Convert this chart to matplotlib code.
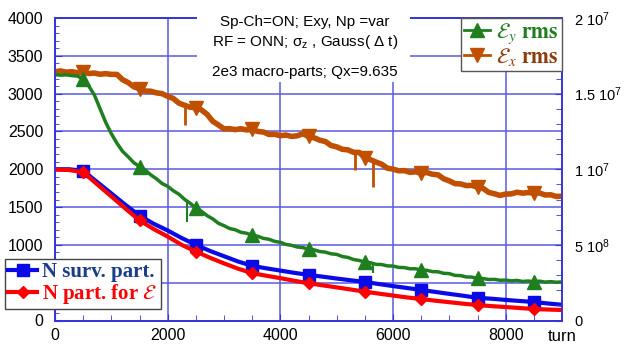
import numpy as np
import matplotlib
matplotlib.use("Agg")
import matplotlib.pyplot as plt
from matplotlib.lines import Line2D
from matplotlib.patches import Rectangle
from matplotlib.ticker import MultipleLocator
from matplotlib.font_manager import FontProperties

plt.rcParams['font.family'] = ['Liberation Sans', 'DejaVu Sans']
plt.rcParams['mathtext.fontset'] = 'stix'

# ---------------- data ----------------
# noisy emittance curves, sampled every 100 turns (units: 1e6, right axis)
turns_eps = list(range(0, 9001, 100))
eps_y_1e6 = [16.25, 16.22, 16.24, 16.19, 16.16, 15.95, 15.50, 14.90, 14.00, 13.10,
             12.35, 11.72, 11.18, 10.82, 10.43, 10.18, 9.95, 9.63, 9.37, 9.06,
             8.87, 8.58, 8.35, 8.01, 7.75, 7.43, 7.22, 6.93, 6.72, 6.43,
             6.27, 6.08, 6.00, 5.83, 5.77, 5.63, 5.57, 5.43, 5.37, 5.23,
             5.17, 5.03, 4.97, 4.86, 4.82, 4.71, 4.67, 4.56, 4.52, 4.41,
             4.37, 4.23, 4.17, 4.03, 3.97, 3.86, 3.82, 3.71, 3.70, 3.61,
             3.60, 3.51, 3.50, 3.42, 3.42, 3.33, 3.32, 3.23, 3.22, 3.12,
             3.10, 2.98, 2.97, 2.88, 2.87, 2.78, 2.77, 2.71, 2.72, 2.66,
             2.67, 2.62, 2.65, 2.58, 2.61, 2.56, 2.60, 2.54, 2.57, 2.53,
             2.55]
eps_x_1e6 = [16.45, 16.50, 16.42, 16.45, 16.38, 16.40, 16.33, 16.36, 16.28, 16.32,
             16.27, 16.27, 15.92, 15.73, 15.45, 15.33, 15.17, 15.16, 15.05, 15.00,
             14.82, 14.68, 14.37, 14.23, 14.10, 14.08, 13.92, 13.63, 13.17, 12.93,
             12.67, 12.68, 12.62, 12.68, 12.60, 12.63, 12.50, 12.46, 12.30, 12.31,
             12.22, 12.26, 12.17, 12.21, 12.35, 12.17, 12.08, 11.92, 11.83, 11.57,
             11.48, 11.32, 11.28, 11.12, 11.11, 10.77, 10.63, 10.47, 10.33, 10.07,
             10.01, 9.90, 9.91, 9.80, 9.83, 9.75, 9.78, 9.67, 9.63, 9.37,
             9.23, 9.05, 9.03, 8.92, 8.93, 8.82, 8.73, 8.47, 8.38, 8.27,
             8.36, 8.37, 8.48, 8.42, 8.46, 8.42, 8.43, 8.30, 8.31, 8.20,
             8.22]
# downward noise spikes: (turn, low, high) in 1e6 units
eps_y_spikes = [(2340, 6.5, 7.9), (5640, 3.15, 3.85)]
eps_x_spikes = [(2300, 12.95, 14.2), (5320, 9.98, 11.15), (5640, 8.8, 10.55)]

# particle numbers, every 250 turns (left axis)
turns_n = list(range(0, 9001, 250))
n_surv = [2000, 2000, 1980, 1830, 1680, 1530, 1386, 1280, 1190, 1090,
          1001, 920, 850, 780, 723, 690, 660, 630, 603, 580,
          555, 532, 510, 482, 455, 430, 404, 378, 352, 327,
          300, 288, 272, 258, 245, 225, 208]
n_eps = [1995, 1990, 1960, 1800, 1640, 1480, 1323, 1210, 1110, 1000,
         912, 830, 755, 685, 626, 592, 560, 525, 493, 465,
         438, 410, 382, 355, 330, 305, 285, 262, 242, 222,
         205, 190, 178, 165, 152, 145, 139]

marker_turns = [500, 1500, 2500, 3500, 4500, 5500, 6500, 7500, 8500]

x_ticks = [0, 2000, 4000, 6000, 8000]
x_ticklabels = ['0', '2000', '4000', '6000', '8000']
y_left_ticks = [0, 500, 1000, 1500, 2000, 2500, 3000, 3500, 4000]
y_right_ticks = [0, 5e6, 1e7, 1.5e7, 2e7]
y_right_labels = ['0', r'5 $\mathregular{10^8}$', r'1 $\mathregular{10^7}$',
                  r'1.5 $\mathregular{10^7}$', r'2 $\mathregular{10^7}$']

note_lines = ['Sp-Ch=ON; Exy, Np =var',
              r'RF = ONN; $\mathregular{\sigma_z}$ , Gauss( $\mathregular{\Delta}$ t)',
              '2e3 macro-parts; Qx=9.635']

# ---------------- style ----------------
W, H = 624, 346
BLUE_AX = '#3535d8'
GRID = '#5a5ae6'
C_GREEN = '#1f7f1f'
C_BROWN = '#c05000'
C_BLUE = '#0a0ae6'
C_RED = '#ff0000'

fig = plt.figure(figsize=(W / 100, H / 100), dpi=100)
L, R, T, B = 55, 562, 18, 320.5
ax = fig.add_axes([L / W, 1 - B / H, (R - L) / W, (B - T) / H])
ax2 = ax.twinx()

ax.set_xlim(0, 9000)
ax.set_ylim(0, 4000)
ax2.set_ylim(0, 2e7)

ax.set_xticks(x_ticks)
ax.set_xticklabels(x_ticklabels)
ax.xaxis.set_minor_locator(MultipleLocator(500))
ax.set_yticks(y_left_ticks)
ax.yaxis.set_minor_locator(MultipleLocator(100))
ax2.set_yticks(y_right_ticks)
ax2.set_yticklabels(y_right_labels)
ax2.yaxis.set_minor_locator(MultipleLocator(1e6))

ax.grid(True, which='major', color=GRID, lw=1.1)
ax.set_axisbelow(True)

ax.tick_params(axis='x', which='both', direction='in', top=False, colors=BLUE_AX,
               labelcolor='black', labelsize=11.5, pad=5.5)
ax.tick_params(axis='x', which='major', length=5)
ax.tick_params(axis='x', which='minor', length=4)
ax.tick_params(axis='y', which='both', direction='in', right=False, colors=BLUE_AX,
               labelcolor='black', labelsize=11.5, pad=8.5)
ax.tick_params(axis='y', which='major', length=5)
ax.tick_params(axis='y', which='minor', length=3)
ax2.tick_params(axis='y', which='both', direction='in', colors=BLUE_AX,
                labelcolor='black', labelsize=10.5, pad=9)
ax2.tick_params(axis='y', which='major', length=5)
ax2.tick_params(axis='y', which='minor', length=4)

for a in (ax, ax2):
    for s in a.spines.values():
        s.set_color(BLUE_AX)
        s.set_linewidth(1.2)

# ---------------- curves ----------------
def mk(turns):
    return [i for i, t in enumerate(turns) if t in marker_turns]

ey = np.array(eps_y_1e6) * 1e6
ex = np.array(eps_x_1e6) * 1e6
ax2.plot(turns_eps, ex, color=C_BROWN, lw=4, marker='v', ms=10,
         markevery=mk(turns_eps))
for t, lo, hi in eps_x_spikes:
    ax2.vlines(t, lo * 1e6, hi * 1e6, color=C_BROWN, lw=2)
ax2.plot(turns_eps, ey, color=C_GREEN, lw=2.5, marker='^', ms=10,
         markevery=mk(turns_eps))
for t, lo, hi in eps_y_spikes:
    ax2.vlines(t, lo * 1e6, hi * 1e6, color=C_GREEN, lw=1.5)

ax.plot(turns_n, n_surv, color=C_BLUE, lw=3, marker='s', ms=8.5,
        markevery=mk(turns_n), zorder=3)
ax.plot(turns_n, n_eps, color=C_RED, lw=3, marker='D', ms=6.6,
        markevery=mk(turns_n), zorder=4)

# "turn" label at the end of the x axis
ax.text(9000, -0.053, 'turn', transform=ax.get_xaxis_transform(),
        ha='center', va='center', fontsize=12)

# ---------------- legends ----------------
lp = FontProperties(family='Liberation Serif', weight='bold', size=15)
lp_top = FontProperties(family='Liberation Serif', weight='bold', size=15.5)
h_top = [Line2D([], [], color=C_GREEN, lw=2, marker='^', ms=10),
         Line2D([], [], color=C_BROWN, lw=2, marker='v', ms=10)]
leg1 = ax2.legend(h_top, [r'$\mathcal{E}_y\ \mathbf{rms}$', r'$\mathcal{E}_x\ \mathbf{rms}$'],
                  loc='upper right', bbox_to_anchor=(1, 1), borderaxespad=0,
                  prop=lp_top, fancybox=False, framealpha=1, handlelength=1.2,
                  handletextpad=0.3, labelspacing=0.0, borderpad=0.15)
leg1.get_frame().set_edgecolor('#555555')
leg1.get_frame().set_linewidth(1)
leg1.get_texts()[0].set_color('#1f7f1f')
leg1.get_texts()[1].set_color('#8f3c0a')

h_bot = [Line2D([], [], color=C_BLUE, lw=3, marker='s', ms=8.5),
         Line2D([], [], color=C_RED, lw=3, marker='D', ms=6.6)]
leg2 = fig.legend(h_bot, ['N surv. part.', r'N part. for $\mathcal{E}$'],
                  loc='upper left', bbox_to_anchor=(5 / W, 1 - 259 / H),
                  bbox_transform=fig.transFigure, borderaxespad=0,
                  prop=lp, fancybox=False, framealpha=1, handlelength=1.4,
                  handletextpad=0.25, labelspacing=0.0, borderpad=0.15)
leg2.get_frame().set_edgecolor('#444444')
leg2.get_frame().set_linewidth(1)
leg2.get_texts()[0].set_color('#1a3c8c')
leg2.get_texts()[1].set_color(C_RED)

# ---------------- annotation box ----------------
fig.patches.append(Rectangle((197 / W, 1 - 82 / H), (410 - 197) / W, 82 / H,
                             transform=fig.transFigure, facecolor='white',
                             edgecolor='none', zorder=1))
for txt, yc in zip(note_lines, [22, 42, 72]):
    fig.text(305 / W, 1 - yc / H, txt, ha='center', va='center', fontsize=11, zorder=3)

fig.savefig('out.png', dpi=100)
